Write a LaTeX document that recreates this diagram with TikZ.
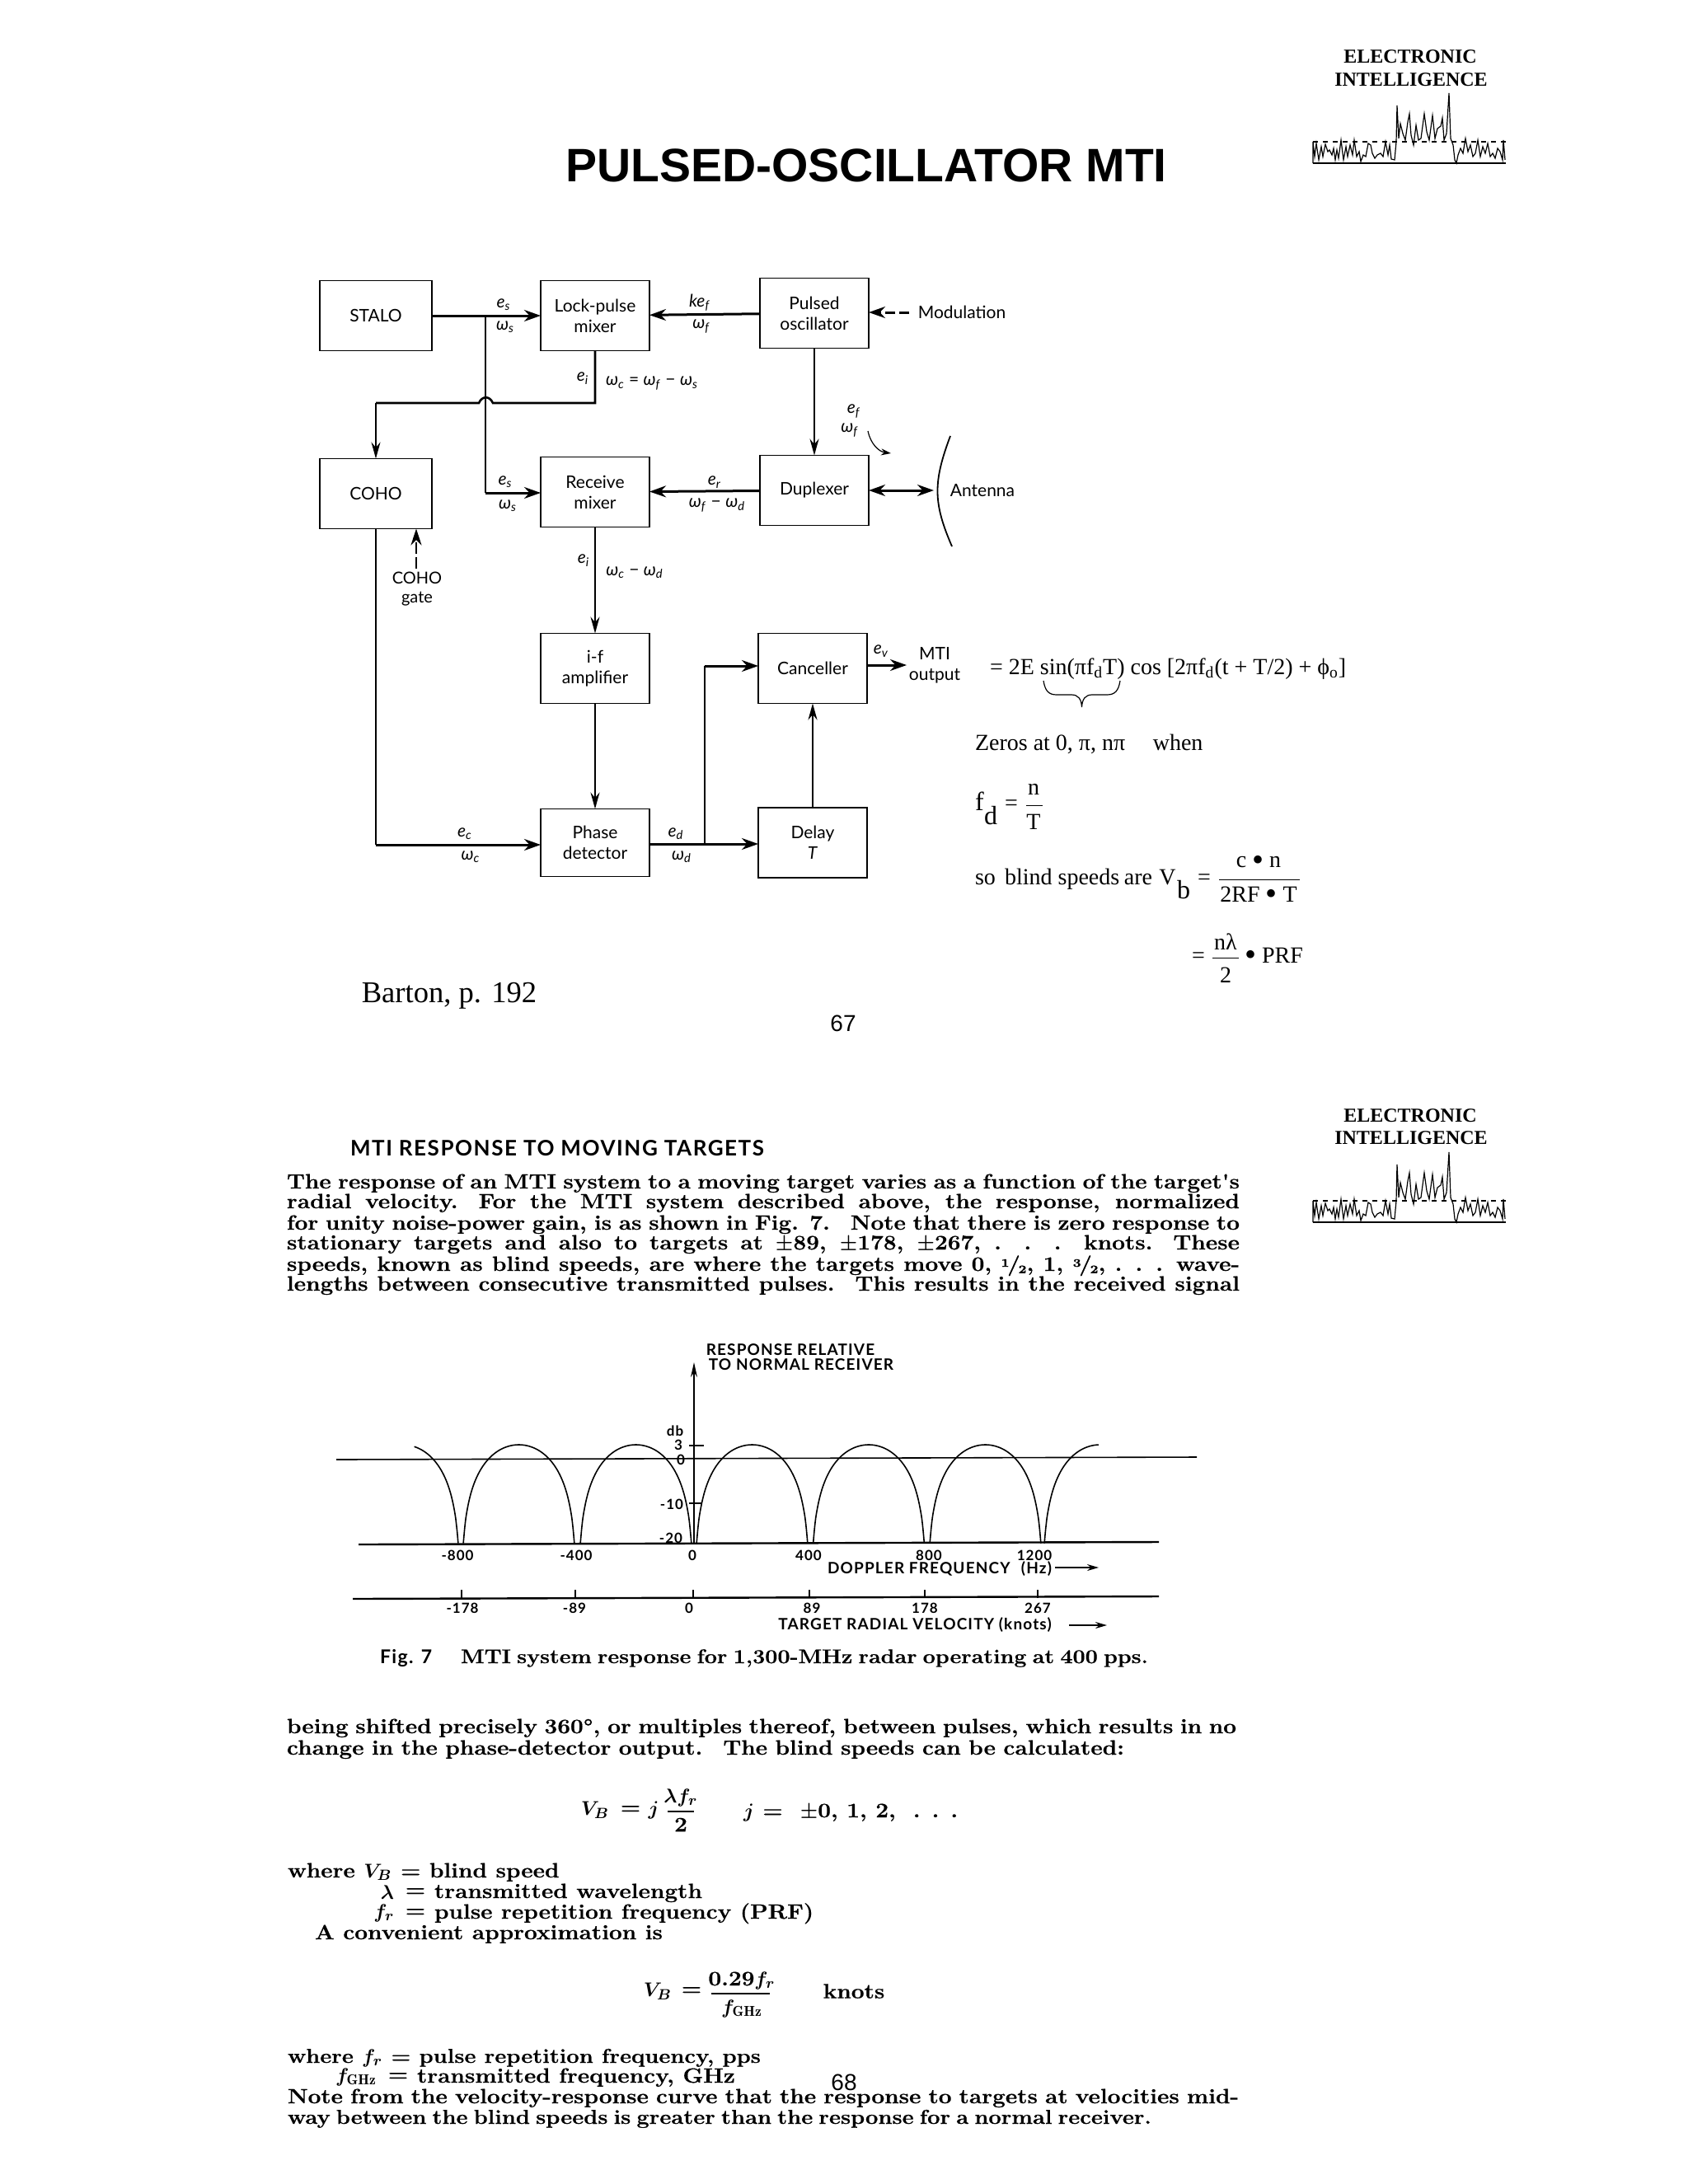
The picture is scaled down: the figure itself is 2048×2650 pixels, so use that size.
\documentclass[tikz,border=0pt]{standalone}
\usepackage{fontspec}
\usepackage{tikz}
\usetikzlibrary{arrows.meta,positioning}
\newfontfamily\arialfont{Liberation Sans}
\newfontfamily\timesfont{Liberation Serif}
\newfontfamily\boxfont{Lato}
\newfontfamily\axisfont[LetterSpace=6]{Lato}
\newfontfamily\scanfont[BoldFeatures={FakeBold=0.6,FakeStretch=1.12}]{Latin Modern Roman}
\newcommand{\fitline}[2]{\makebox[#1][s]{#2}}
\newcommand{\slashfrac}[2]{\raisebox{.45ex}{\scriptsize #1}\kern-.1em/\kern-.1em\raisebox{-.25ex}{\scriptsize #2}}
\newcommand{\fghz}{$f_{\mathrm{GHz}}$}
\newcommand{\sig}[2]{\textit{#1}\textsubscript{\textit{#2}}}
\newcommand{\bigdot}{{\fontsize{20}{20}\selectfont\raisebox{-.08em}{•}}}
\tikzset{
  speclogo/.pic={
    \draw[line width=.6pt] (0,0) -- (234,0);
    \draw[line width=.6pt, dashed] (0,-26) -- (234,-26);
    \draw[line width=.6pt] (0,0) -- (0,-26) -- (2,-8) -- (4,-24) -- (7,-4) -- (10,-20) -- (12,-8) -- (15,-23) -- (18,-14) -- (20,-16) -- (23,-10) -- (25,-18) -- (27,-4) -- (29,-16) -- (31,-6) -- (34,-28) -- (37,-4) -- (40,-20) -- (42,-8) -- (45,-22) -- (48,-10) -- (50,-28) -- (53,-8) -- (56,-14) -- (58,-2) -- (61,-10) -- (64,-8) -- (67,-24) -- (70,-22) -- (72,-12) -- (75,-6) -- (78,-10) -- (82,-12) -- (85,-8) -- (88,-26) -- (91,-10) -- (93,-22) -- (95,-5) -- (99,-4) -- (101,-26)
      -- (102,-70) -- (104,-30) -- (106,-48) -- (109,-36) -- (112,-28) -- (115,-50) -- (117,-60) -- (119,-34) -- (122,-22) -- (125,-46) -- (128,-28) -- (131,-30) -- (135,-60) -- (138,-38) -- (141,-28) -- (145,-58) -- (148,-30) -- (151,-42) -- (155,-45) -- (157,-55) -- (159,-28) -- (162,-36) -- (165,-85) -- (167,-30) -- (170,-22)
      -- (172,-4) -- (174,0) -- (176,-10) -- (179,-18) -- (182,-12) -- (185,-30) -- (188,-14) -- (191,-22) -- (194,-8) -- (197,-12) -- (200,-28) -- (203,-8) -- (206,-20) -- (209,-12) -- (212,-24) -- (215,-8) -- (218,-12) -- (221,-6) -- (224,-18) -- (227,-14) -- (230,-4) -- (231,-28) -- (233,-4);
  }
}
\begin{document}
\begin{tikzpicture}[
  x=0.5pt, y=-0.5pt,
  every node/.style={inner sep=0pt, outer sep=0pt},
  blockbox/.style={draw, line width=.9pt, align=center, minimum width=66pt, minimum height=42.5pt,
              font=\boxfont\fontsize{10.5}{12.5}\selectfont},
  lab/.style={font=\boxfont\fontsize{10.5}{12}\selectfont},
  boxlab/.style={font=\boxfont\fontsize{10.5}{12.5}\selectfont, align=center},
  eqn/.style={font=\timesfont\fontsize{14}{16}\selectfont, anchor=base west},
  eqc/.style={font=\timesfont\fontsize{14}{16}\selectfont},
  badge/.style={font=\timesfont\bfseries\fontsize{12}{14}\selectfont},
  scan/.style={font=\scanfont\bfseries\boldmath\fontsize{12.5}{14}\selectfont, anchor=base west},
  scanc/.style={font=\scanfont\bfseries\boldmath\fontsize{12.5}{14}\selectfont},
  axlab/.style={font=\axisfont\bfseries\fontsize{9.5}{11}\selectfont},
  axnum/.style={font=\axisfont\bfseries\fontsize{8.5}{10}\selectfont},
  arr/.style={-{Stealth[length=10pt, width=5.5pt]}, line width=.9pt},
  harr/.style={arr, -{Stealth[length=10pt, width=7pt]}, line width=1.5pt},
  plotline/.style={line width=.8pt}
]
\useasboundingbox (0,0) rectangle (2048,2650);
% page 67
\node[font=\arialfont\bfseries\fontsize{28.5}{32}\selectfont] (title) at (1051,201) {PULSED-OSCILLATOR MTI};
\node[badge] (elec1) at (1711,69) {ELECTRONIC};
\node[badge] (intel1) at (1712,97) {INTELLIGENCE};
\pic at (1593,198) {speclogo};

\node[blockbox, minimum width=68pt] (stalo) at (456,383) {STALO};
\node[blockbox, right=66pt of stalo] (lock) {Lock-pulse\\mixer};
\node[blockbox, right=67pt of lock, yshift=1.5pt] (pulsed) {Pulsed\\oscillator};
\node[blockbox, minimum width=68pt, below=65.5pt of stalo] (coho) {COHO};
\node[blockbox, right=66pt of coho, yshift=1pt] (recv) {Receive\\mixer};
\node[blockbox, right=67pt of recv, yshift=1pt] (dup) {Duplexer};
\node[blockbox, below=64.5pt of recv] (ifamp) {i-f\\amplifier};
\node[blockbox, right=66pt of ifamp] (cancel) {Canceller};
\node[blockbox, below=64pt of ifamp, minimum height=41pt] (phase) {Phase\\detector};
\node[blockbox, right=66pt of phase] (delay) {Delay\\\textit{T}};

\coordinate (split) at (589,382);
\coordinate (recvin) at (589,598);
\coordinate (kneeR) at (722,489);
\coordinate (hopR) at (598,489);
\coordinate (hopL) at (581,489);
\coordinate (kneeL) at (456,489);
\coordinate (cohodown) at (456,1025);
\coordinate (dsplit) at (855,1024);
\coordinate (dknee) at (855,808);
\node[boxlab] (modul) at (1167,379) {Modulation};
\node[boxlab] (anten) at (1192,595) {Antenna};
\node[boxlab, font=\boxfont\fontsize{10}{11.5}\selectfont] (cgate) at (506,715) {COHO\\gate};
\node[boxlab] (mtiout) at (1134,807) {MTI\\output};
\coordinate (modtail) at (1103,379);
\coordinate (cgtail) at (505,690);
\coordinate (mtitip) at (1100,807);
\coordinate (anttip) at (1133,595);

\draw[harr] (stalo) -- (lock);
\draw[harr] (pulsed) -- (lock);
\draw[arr] (pulsed) -- (dup);
\draw[harr, dash pattern=on 6pt off 2.5pt] (modtail) -- (pulsed.east |- modtail);
\draw[line width=.9pt] (split) -- (589,480);
\draw[line width=.9pt] (589,480) -- (recvin);
\draw[harr] (recvin) -- (recvin -| recv.west);
\draw[line width=1.3pt] (lock) -- (kneeR) -- (hopR) .. controls (594,480) and (585,480) .. (hopL) -- (kneeL);
\draw[arr] (kneeL) -- (coho);
\draw[harr] (dup) -- (recv);
\draw[harr, {Stealth[length=10pt, width=7pt]}-{Stealth[length=10pt, width=7pt]}] (dup.east |- anttip) -- (anttip);
\draw[arr] (recv) -- (ifamp);
\draw[arr] (ifamp) -- (phase);
\draw[arr, -{Stealth[length=10pt, width=6.5pt]}, line width=1.3pt, dash pattern=on 7pt off 2pt] (cgtail) -- (cgtail |- coho.south);
\draw[line width=.9pt] (coho) -- (cohodown);
\draw[harr] (cohodown) -- (phase.west |- cohodown);
\draw[harr] (phase.east |- dsplit) -- (delay.west |- dsplit);
\draw[line width=1pt] (dsplit) -- (dknee);
\draw[harr] (dknee) -- (dknee -| cancel.west);
\draw[arr, line width=1.1pt] (delay) -- (cancel);
\draw[harr] (cancel.east |- mtitip) -- (mtitip);
% antenna dish
\draw[line width=.9pt] (1153,529) .. controls (1132,585) and (1132,610) .. (1155,663);
\draw[-{Stealth[length=6pt, width=4pt]}, line width=.6pt] (1053,523) .. controls (1056,538) and (1066,548) .. (1081,550);

\node[lab] (es1) at (611,370) {\sig{e}{s}};
\node[lab] (ws1) at (613,397) {\sig{ω}{s}};
\node[lab] (kef) at (849,367) {\sig{ke}{f}};
\node[lab] (wf1) at (851,396) {\sig{ω}{f}};
\node[lab] (ei1) at (707,459) {\sig{e}{i}};
\node[lab] (wc1) at (791,465) {\sig{ω}{c} = \sig{ω}{f} − \sig{ω}{s}};
\node[lab] (ef1) at (1036,499) {\sig{e}{f}};
\node[lab] (wf2) at (1031,522) {\sig{ω}{f}};
\node[lab] (es2) at (613,585) {\sig{e}{s}};
\node[lab] (ws2) at (616,614) {\sig{ω}{s}};
\node[lab] (er) at (867,585) {\sig{e}{r}};
\node[lab] (wfd) at (870,613) {\sig{ω}{f} − \sig{ω}{d}};
\node[lab] (ei2) at (708,680) {\sig{e}{i}};
\node[lab] (wcd) at (770,695) {\sig{ω}{c} − \sig{ω}{d}};
\node[lab] (ev) at (1069,790) {\sig{e}{v}};
\node[lab] (ec) at (564,1012) {\sig{e}{c}};
\node[lab] (wc2) at (571,1040) {\sig{ω}{c}};
\node[lab] (ed) at (820,1012) {\sig{e}{d}};
\node[lab] (wd) at (827,1040) {\sig{ω}{d}};

% equations
\node[eqn] (eqmain) at (1201,818) {= 2E sin(πf\textsubscript{d}T) cos [2πf\textsubscript{d}(t + T/2) + ϕ\textsubscript{o}]};
\draw[line width=.6pt] (1266,826) .. controls (1268,838) and (1272,843) .. (1282,843) -- (1300,843) .. controls (1308,843) and (1312,848) .. (1312.5,858) .. controls (1313,848) and (1317,843) .. (1325,843) -- (1343,843) .. controls (1353,843) and (1357,838) .. (1359,826);
\node[eqn] (zeros) at (1183,910) {Zeros at 0, π, nπ\hspace{1.2em}when};
\node[eqn, font=\timesfont\fontsize{16}{18}\selectfont] (fd) at (1183,983) {f};
\node[eqn, font=\timesfont\fontsize{16}{18}\selectfont] (fdsub) at (1194,1000) {d};
\node[eqc] (fdeq) at (1227,977) {=};
\node[eqc] (fdn) at (1254,958) {n};
\node[eqc] (fdt) at (1254,997) {T};
\draw[line width=.5pt] (1245,977) -- (1265,977);
\node[eqn] (blind) at (1183,1073) {so\hspace{.4em}blind speeds\hspace{-.05em} are\hspace{.3em}V};
\node[eqn, font=\timesfont\fontsize{16}{18}\selectfont] (vbsub) at (1428,1090) {b};
\node[eqc] (vbeq) at (1461,1067) {=};
\node[eqc] (vbn) at (1527,1047) {c \bigdot{} n};
\node[eqc] (vbd) at (1527,1087) {2RF \bigdot{} T};
\draw[line width=.5pt] (1479,1067) -- (1577,1067);
\node[eqc] (prfeq) at (1454,1162) {=};
\node[eqc] (prfn) at (1487,1143) {nλ};
\node[eqc] (prfd) at (1487,1183) {2};
\draw[line width=.5pt] (1471,1162) -- (1503,1162);
\node[eqn] (prf) at (1510,1168) {\bigdot{} PRF};
\node[font=\timesfont\fontsize{18.3}{20}\selectfont] (barton) at (545,1208) {Barton, p. 192};
\node[font=\arialfont\fontsize{14}{16}\selectfont] (pg67) at (1023,1242) {67};

% page 68
\node[badge] (elec2) at (1711,1354) {ELECTRONIC};
\node[badge] (intel2) at (1712,1381) {INTELLIGENCE};
\pic at (1593,1483) {speclogo};
\node[font=\axisfont\bfseries\fontsize{13}{14}\selectfont] (resphead) at (676,1393) {MTI RESPONSE TO MOVING TARGETS};
\node[scan] (para1) at (348,1442) {\fitline{578pt}{The response of an MTI system to a moving target varies as a function of the target's}};
\node[scan] (para2) at (348,1466) {\fitline{578pt}{radial velocity.\quad For the MTI system described above, the response, normalized}};
\node[scan] (para3) at (348,1492) {\fitline{578pt}{for unity noise-power gain, is as shown in Fig. 7.\quad Note that there is zero response to}};
\node[scan] (para4) at (348,1516) {\fitline{578pt}{stationary targets and also to targets at $\pm$89, $\pm$178, $\pm$267, . . . knots.\quad These}};
\node[scan] (para5) at (348,1542) {\fitline{578pt}{speeds, known as blind speeds, are where the targets move 0, \slashfrac12, 1, \slashfrac32, . . . wave-}};
\node[scan] (para6) at (348,1566) {\fitline{578pt}{lengths between consecutive transmitted pulses.\quad This results in the received signal}};

% response plot
\coordinate (yfoot) at (842,1873);
\coordinate (ytip) at (842,1653);
\draw[-{Stealth[length=9pt, width=4pt]}, plotline] (yfoot) -- (ytip);
\draw[plotline] (408,1771) -- (1452,1768);
\draw[line width=1.2pt] (435,1874) -- (1406,1871);
\draw[plotline] (836,1754) -- (854,1754);
\draw[plotline] (836,1824) -- (852,1824);
\foreach \nul/\from/\to in {418/108/176, 559/4/176, 701/4/176, 842/4/176, 983.5/4/176, 1125/4/176, 1264/4/88}
  \draw[plotline] plot[domain=\from:\to, samples=90, smooth] ({\nul+\x*0.7833},{1753-104*log10(sin(\x))});
\node[axlab] (resp1) at (959,1638) {RESPONSE RELATIVE};
\node[axlab] (resp2) at (972,1656) {TO NORMAL RECEIVER};
\node[axnum] (dbl) at (819,1736) {db};
\node[axnum] (db3) at (823,1753) {3};
\node[axnum] (db0) at (826,1771) {0};
\node[axnum] (dbm10) at (815,1825) {-10};
\node[axnum] (dbm20) at (814,1866) {-20};
\foreach \xp/\lbl in {555/-800, 699/-400, 840/0, 981/400, 1127/800, 1255/1200}
  \node[axnum] at (\xp,1887) {\lbl};
\node[axlab] (dopl) at (1140,1904) {DOPPLER FREQUENCY\hspace{.4em} (Hz)};
\coordinate (doptail) at (1280,1902);
\coordinate (doptip) at (1333,1902);
\draw[-{Stealth[length=7pt, width=4pt]}, line width=.9pt] (doptail) -- (doptip);
\draw[line width=1.2pt] (428,1940) -- (1406,1937);
\foreach \xp/\lbl/\xq in {560/-178/561, 698/-89/697, 841/0/836, 982/89/985, 1122/178/1122, 1259/267/1259} {
  \draw[plotline] (\xp,1939) -- (\xp,1929);
  \node[axnum] at (\xq,1951) {\lbl};
}
\node[axlab] (veloc) at (1110,1972) {TARGET RADIAL VELOCITY (knots)};
\coordinate (veltail) at (1297,1972);
\coordinate (veltip) at (1343,1972);
\draw[-{Stealth[length=7pt, width=4pt]}, line width=.9pt] (veltail) -- (veltip);
\node[font=\axisfont\bfseries\fontsize{11.5}{12}\selectfont, anchor=base west] (fig7) at (461,2018) {Fig. 7};
\node[scan, font=\scanfont\bfseries\fontsize{12}{14}\selectfont] (figcap) at (559,2018) {\fitline{417pt}{MTI system response for 1,300-MHz radar operating at 400 pps.}};

\node[scan] (after1) at (348,2103) {\fitline{576pt}{being shifted precisely 360°, or multiples thereof, between pulses, which results in no}};
\node[scan] (after2) at (348,2129) {\fitline{508pt}{change in the phase-detector output.\quad The blind speeds can be calculated:}};
\node[scanc] (vb1) at (722,2196) {$V_B$};
\node[scanc] (vb1eq) at (765,2196) {=};
\node[scanc] (vb1j) at (793,2196) {$j$};
\node[scanc] (vb1n) at (826,2181) {$\lambda f_r$};
\node[scanc] (vb1d) at (826,2214) {2};
\draw[line width=.8pt] (810,2198) -- (842,2198);
\node[scan] (jvals) at (902,2205) {$j$ = \ $\pm$0, 1, 2, \ . . .};
\node[scan] (wherev) at (349,2278) {where $V_B$ = blind speed};
\node[scanc] (wlam) at (470,2296) {$\lambda$};
\node[scanc] (wlameq) at (504,2296) {=};
\node[scan] (wlamt) at (527,2303) {transmitted wavelength};
\node[scanc] (wfr) at (466,2321) {$f_r$};
\node[scanc] (wfreq) at (504,2321) {=};
\node[scan] (wfrt) at (527,2328) {pulse repetition frequency (PRF)};
\node[scan] (conven) at (382,2353) {A convenient approximation is};
\node[scanc] (vb2) at (798,2416) {$V_B$};
\node[scanc] (vb2eq) at (839,2416) {=};
\node[scanc] (vb2n) at (900,2403) {0.29$f_r$};
\node[scanc] (vb2d) at (900,2437) {\fghz};
\draw[line width=.8pt] (863,2419) -- (934,2419);
\node[scanc] (knots) at (1036,2416) {knots};
\node[scan, font=\scanfont\bfseries\boldmath\fontsize{12.2}{14}\selectfont] (wherefr) at (349,2503) {where $f_r$ = pulse repetition frequency, pps};
\node[scanc] (wghz) at (432,2520) {\fghz};
\node[scanc] (wghzeq) at (483,2520) {=};
\node[scan] (wghzt) at (506,2527) {transmitted frequency, GHz};
\node[font=\arialfont\fontsize{14}{16}\selectfont] (pg68) at (1024,2527) {68};
\node[scan] (note1) at (349,2552) {\fitline{577pt}{Note from the velocity-response curve that the response to targets at velocities mid-}};
\node[scan, font=\scanfont\bfseries\fontsize{12.2}{14}\selectfont] (note2) at (349,2577) {\fitline{524pt}{way between the blind speeds is greater than the response for a normal receiver.}};
\end{tikzpicture}
\end{document}
